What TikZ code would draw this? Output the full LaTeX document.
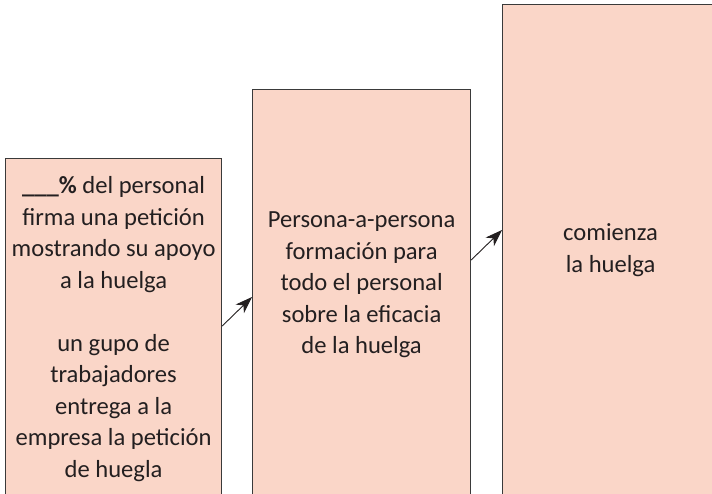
\documentclass[tikz,border=0pt]{standalone}
\usepackage{fontspec}
\setmainfont{Carlito}
\usepackage{tikz}
\usetikzlibrary{positioning, arrows.meta}
\definecolor{boxfill}{HTML}{FAD6C8}
\definecolor{boxline}{HTML}{3A3A3A}
\definecolor{ink}{HTML}{231F20}

\begin{document}
\begin{tikzpicture}[x=1pt, y=1pt,
    every node/.style = { align = center, text = ink, font = \fontsize{24.6}{31.5}\selectfont },
    stage/.style = { draw = boxline, fill = boxfill, line width = 1.2pt, anchor = north west, inner sep = 0pt },
    flow/.style = { draw = ink, line width = .9pt, -{Stealth[length=17pt, width=12pt, inset=5pt]} }]
    \clip (0,0) rectangle (712,-493);
    	 \node [stage, minimum width = 216pt, minimum height = 360pt] (b1) at (5,-158) {};
    	 \node [stage, minimum width = 218pt, minimum height = 430pt] (b2) at (252,-89) {};
    	 \node [stage, minimum width = 216pt, minimum height = 500pt] (b3) at (502,-4) {};
      \node (t1) at ([yshift=-171pt]b1.north) { \textbf{\_\_\_\%} del personal \\ firma una petición \\ mostrando su apoyo \\ a la huelga \\[31.5pt] un gupo de \\ trabajadores \\ entrega a la \\ empresa la petición \\ de huegla };
      \node (t2) at ([yshift=-196pt]b2.north) { Persona-a-persona \\ formación para \\ todo el personal \\ sobre la eficacia \\ de la huelga };
      \node (t3) at ([yshift=-246pt]b3.north) { comienza \\ la huelga };
      \coordinate (s1) at ([yshift=-168pt]b1.north east);
      \coordinate (e1) at ([yshift=-208pt]b2.north west);
      \coordinate (s2) at ([yshift=-171pt]b2.north east);
      \coordinate (e2) at ([yshift=-226pt]b3.north west);
      \draw [flow] (s1) -- (e1);
      \draw [flow] (s2) -- (e2);
    \end{tikzpicture}
\end{document}
